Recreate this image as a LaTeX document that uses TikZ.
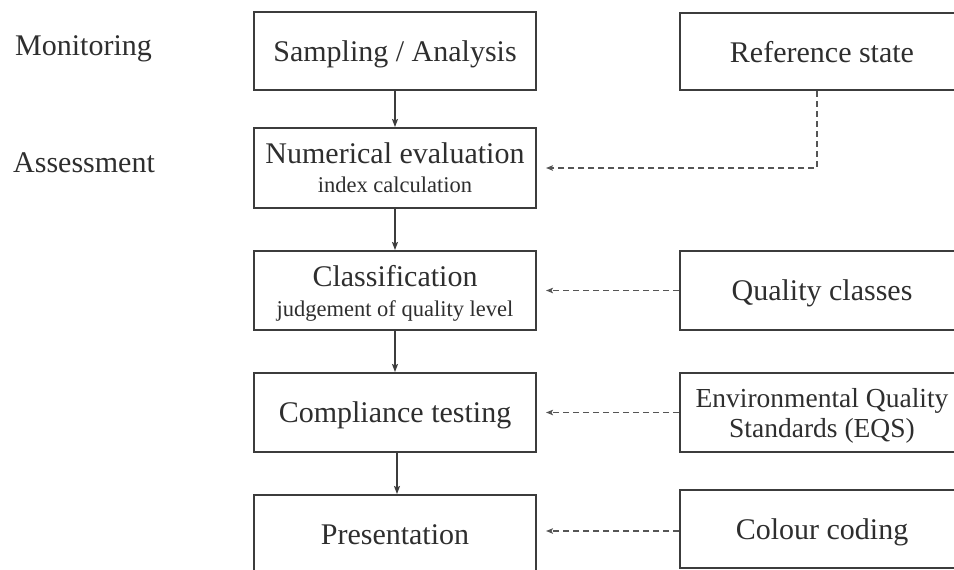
\documentclass[tikz,border=0pt]{standalone}
\usepackage{fontspec}
\setmainfont{Liberation Serif}
\usetikzlibrary{arrows.meta}
\definecolor{txt}{HTML}{2E2E2E}
\definecolor{ln}{HTML}{3C3C3C}
\definecolor{dl}{HTML}{555555}
\begin{document}
\begin{tikzpicture}[x=1pt,y=-1pt,
  box/.style={draw=ln,line width=2pt,text=txt,align=center,inner sep=0pt,
    text depth=0pt,font=\fontsize{30}{31}\selectfont},
  lbox/.style={box,minimum width=282pt},
  rbox/.style={box,minimum width=284pt},
  lab/.style={text=txt,anchor=base west,inner sep=0pt,font=\fontsize{30}{31}\selectfont},
  flow/.style={draw=ln,line width=1.3pt,-{Stealth[length=8pt,width=6pt,inset=1.5pt]}},
  feed/.style={draw=dl,line width=1.2pt,dash pattern=on 6pt off 4pt,-{Stealth[length=7pt,width=5.5pt,inset=1.5pt]}}]
\useasboundingbox (0,0) rectangle (954,570);
\begin{scope}
\clip (0,0) rectangle (954,570);
\node[lab] (mon) at (15,55) {Monitoring};
\node[lab] (ass) at (13,172) {Assessment};

\node[lbox,minimum height=78pt] (b1) at (395,51) {Sampling / Analysis};
\node[lbox,minimum height=80pt] (b2) at (395,168) {Numerical evaluation\\[-2pt]{\fontsize{22.5}{28}\selectfont index calculation}};
\node[lbox,minimum height=79pt] (b3) at (395,290.5) {Classification\\[-1pt]{\fontsize{22.5}{28}\selectfont judgement of quality level}};
\node[lbox,minimum height=79pt] (b4) at (395,412.5) {Compliance testing};
\node[lbox,minimum height=79pt] (b5) at (395,534.5) {Presentation};

\node[rbox,minimum height=77pt] (r1) at (822,51.5) {Reference state};
\node[rbox,minimum height=79pt] (r2) at (822,290.5) {Quality classes};
\node[rbox,minimum height=79pt,font=\fontsize{27.5}{30}\selectfont] (r3) at (822,412.5) {Environmental Quality\\Standards (EQS)};
\node[rbox,minimum height=78pt] (r4) at (822,529) {Colour coding};

\draw[flow] (b1.south) -- (b2.north);
\draw[flow] (b2.south) -- (b3.north);
\draw[flow] (b3.south) -- (b4.north);
\draw[flow] ([xshift=2pt]b4.south) -- ([xshift=2pt]b5.north);

\coordinate (c1) at ([xshift=9pt]b2.east);
\draw[feed] (r1.south -| 817,0) |- (c1);
\draw[feed] (r2.west) -- ([xshift=9pt]b3.east);
\draw[feed] (r3.west) -- ([xshift=9pt]b4.east);
\draw[feed] (r4.west |- 0,531) -- ([xshift=9pt]b5.east |- 0,531);
\end{scope}
\end{tikzpicture}
\end{document}
